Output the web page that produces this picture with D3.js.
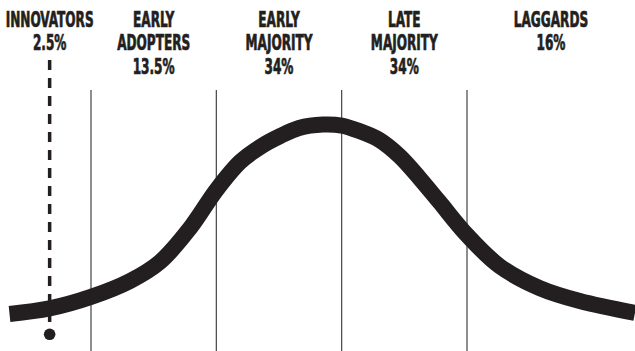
<!doctype html>
<html lang="en">
<head>
<meta charset="utf-8">
<style>
	body{margin:0;background:#fff;}
	svg{display:block;}
	text{font-family:"DejaVu Sans Condensed","Liberation Sans Narrow",sans-serif;font-weight:bold;}
</style>
</head>
<body>
<div id="grafico"></div>

<script src="https://d3js.org/d3.v7.min.js"></script>
<script>

// categorias de adopcion (lineas de cada etiqueta) y su porcentaje
var categorias = [["INNOVATORS"], ["EARLY", "ADOPTERS"], ["EARLY", "MAJORITY"], ["LATE", "MAJORITY"], ["LAGGARDS"]];
var porcentajes = ["2.5%", "13.5%", "34%", "34%", "16%"];

// limites entre categorias, en desviaciones estandar
var limites = [-2, -1, 0, 1];
var innovadores = -2.33;

// la curva: desviaciones estandar y altura relativa (100 = cima)
var curvaX = [-2.65, -2.33, -2.00, -1.69, -1.45, -1.21, -1.00, -0.81, -0.65, -0.49, -0.34, -0.15, 0.00, 0.14, 0.30, 0.46, 0.62, 0.78, 1.00, 1.26, 1.58, 1.90, 2.34];
var curvaY = [7.8, 10.5, 16.1, 23.8, 33.1, 49.6, 68.1, 81.8, 89.1, 94.4, 98.3, 100, 99.5, 96.8, 92.5, 84.7, 74.0, 62.3, 46.2, 31.1, 20.4, 14.1, 8.3];

var ancho = 635, alto = 351;

var x = d3.scaleLinear().domain([-2, 1]).range([91, 467]);
var y = d3.scaleLinear().domain([0, 100]).range([330, 124.5]);

var svg = d3.select("#grafico").append("svg").attr("width", ancho).attr("height", alto);

// lineas divisorias
svg.selectAll("line.limite").data(limites).enter().append("line").attr("class", "limite")
	.attr("x1", function(d){ return x(d) }).attr("x2", function(d){ return x(d) })
	.attr("y1", y(116.8)).attr("y2", alto)
	.attr("stroke", "#444").attr("stroke-width", 1.2);

// linea punteada de innovadores
svg.append("line")
	.attr("x1", x(innovadores)).attr("x2", x(innovadores))
	.attr("y1", y(131.4)).attr("y2", y(3.9))
	.attr("stroke", "#231f20").attr("stroke-width", 3.5).attr("stroke-dasharray", "10,8");

svg.append("circle").attr("cx", x(innovadores)).attr("cy", y(-2.1)).attr("r", 5.8).attr("fill", "#231f20");

// la campana
var puntos = curvaX.map(function(d, i){ return [d, curvaY[i]] });
var linea = d3.line().x(function(d){ return x(d[0]) }).y(function(d){ return y(d[1]) }).curve(d3.curveCatmullRom.alpha(0.5));

svg.append("path").datum(puntos).attr("d", linea)
	.attr("fill", "none").attr("stroke", "#231f20").attr("stroke-width", 16);

// etiquetas centradas en cada tramo
var centros = [x(innovadores), x(-1.5), x(-0.5), x(0.5), x((1 + curvaX[curvaX.length - 1]) / 2)];

var etiqueta = svg.selectAll("g.etiqueta").data(categorias).enter().append("g").attr("class", "etiqueta")
	.attr("transform", function(d, i){ return "translate(" + centros[i] + ",0)" });

var textos = etiqueta.selectAll("text").data(function(d, i){ return d.concat([porcentajes[i]]) }).enter().append("text")
	.attr("x", 0).attr("y", function(d, j){ return 26.7 + 23.8 * j })
	.attr("text-anchor", "middle").attr("fill", "#231f20").style("font-size", "21px")
	.attr("stroke", "#231f20").attr("stroke-width", 0.7)
	.text(function(d){ return d });

// la letra del original es muy condensada: se estrecha todo hasta que INNOVATORS mida 88px
var largo = textos.filter(function(d){ return d == "INNOVATORS" }).node().getComputedTextLength();
var estrecho = 88 / largo;
etiqueta.attr("transform", function(d, i){ return "translate(" + centros[i] + ",0) scale(" + estrecho + ",1)" });

</script>
</body>
</html>
